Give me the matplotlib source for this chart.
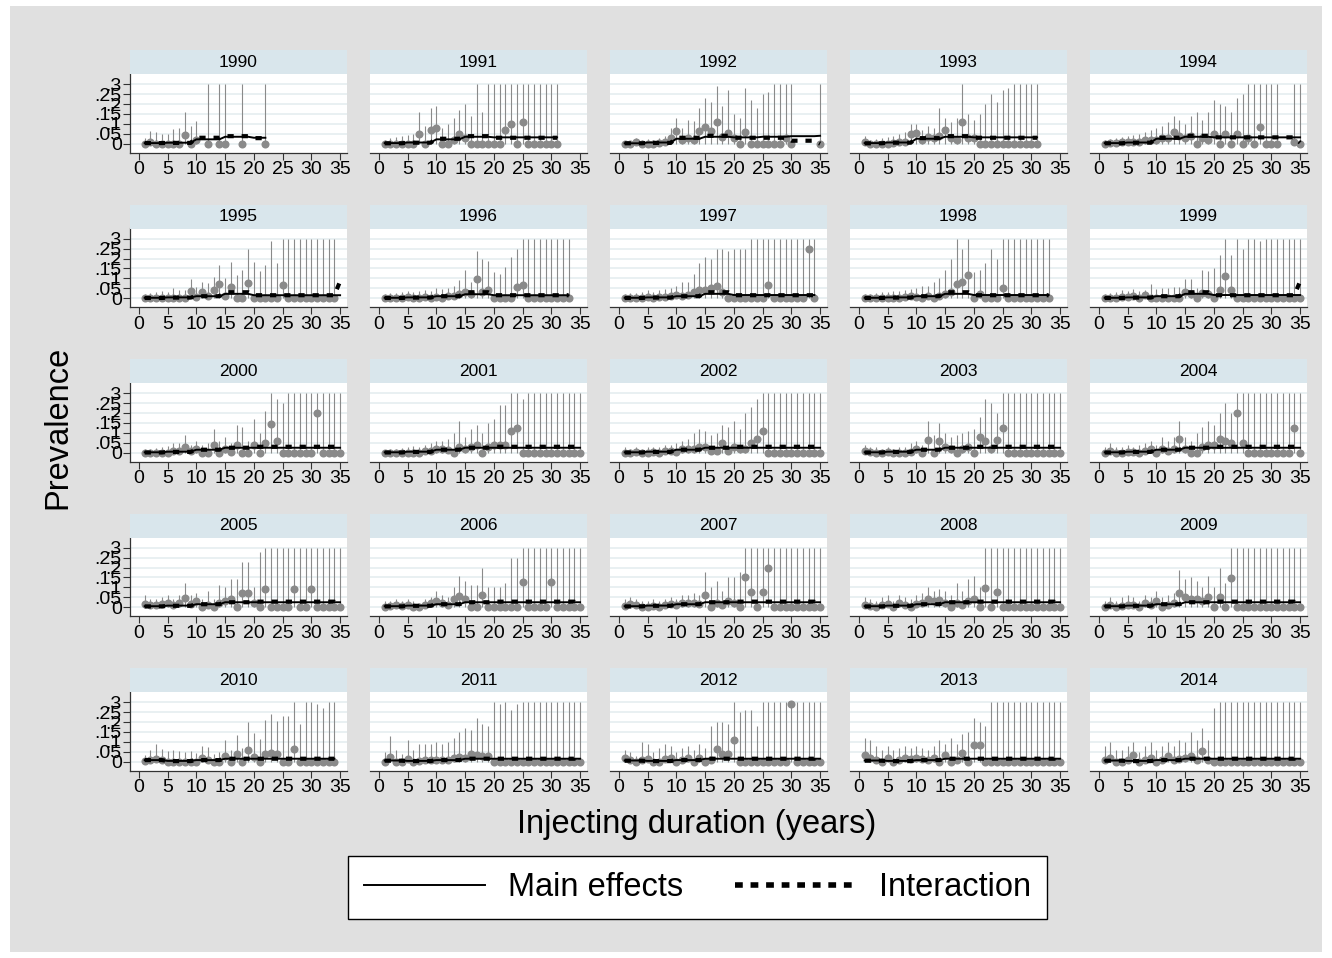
import matplotlib
matplotlib.use("Agg")
import matplotlib.pyplot as plt
from matplotlib.lines import Line2D
from matplotlib.patches import Rectangle
import numpy as np

N = None

years = list(range(1990, 2015))
y_ticks = [0, .05, .1, .15, .2, .25, .3]
y_tick_labels = ["0", ".05", ".1", ".15", ".2", ".25", ".3"]
x_ticks = [0, 5, 10, 15, 20, 25, 30, 35]

# duration groups used by the model: 1-4, 5-9, 10-14, 15-19, 20-24, 25-29, 30-34, 35
dur_group = [0] * 4 + [1] * 5 + [2] * 5 + [3] * 5 + [4] * 5 + [5] * 5 + [6] * 5 + [7]

# observed prevalence by injecting duration (1, 2, ...)
obs = {
    1990: [0, .01, 0, 0, 0, 0, 0, .045, 0, .02, N, 0, N, 0, 0, N, N, 0, N, N, N, 0],
    1991: [0, 0, 0, 0, 0, 0, .05, 0, .07, .08, 0, 0, .02, .05, .03, 0, 0, 0, 0, 0,
           0, .07, .1, 0, .11, 0, 0, 0, 0, 0, 0],
    1992: [0, 0, .008, 0, 0, 0, .005, .01, .027, .064, .02, .03, .02, .064, .083, .064, .11, .035, .055, .027,
           0, .057, 0, 0, 0, 0, 0, 0, .03, 0, N, N, N, N, 0],
    1993: [.01, 0, 0, 0, 0, .005, .01, .01, .05, .055, .02, .035, .03, .04, .07, .03, .02, .11, .03, .03,
           0, 0, 0, 0, 0, 0, 0, 0, 0, 0, 0],
    1994: [0, .005, .005, .01, .01, .01, .01, .02, .02, .02, .03, .03, .06, .04, .03, .04, 0, .03, .02, .05,
           0, .05, 0, .05, 0, .03, 0, .085, 0, 0, 0, N, N, .01, 0],
    1995: [0, 0, 0, 0, 0, 0, 0, 0, .034, .005, .03, .01, .039, .072, .012, .055, 0, 0, .078, 0,
           0, 0, 0, 0, .067, 0, 0, 0, 0, 0, 0, 0, 0, 0, N],
    1996: [0, 0, 0, 0, .005, 0, 0, .005, 0, .005, 0, .01, .01, .02, .03, .02, .095, .03, .04, 0,
           0, 0, 0, .055, .065, 0, 0, 0, 0, 0, 0, 0, 0],
    1997: [0, 0, 0, 0, .005, 0, .005, .005, .01, .015, .01, .015, .03, .04, .04, .05, .06, .03, 0, 0,
           0, 0, 0, 0, 0, .065, 0, 0, 0, 0, 0, 0, .25, 0],
    1998: [0, 0, 0, 0, 0, 0, 0, .005, .01, .005, 0, .01, 0, .01, .02, .03, .07, .08, .115, 0,
           .02, 0, 0, 0, .05, 0, 0, 0, 0, 0, 0, 0, 0],
    1999: [0, 0, 0, .005, .005, .01, 0, .015, 0, 0, 0, 0, 0, 0, .03, .02, 0, .028, .02, 0,
           .04, .11, .04, 0, 0, 0, 0, 0, 0, 0, 0, 0, 0, 0, 0],
    2000: [0, 0, 0, 0, 0, .01, .01, .03, .01, .02, 0, 0, .04, 0, .02, .005, .04, 0, 0, .04,
           0, .05, .145, .06, 0, 0, 0, 0, 0, 0, .2, 0, 0, 0, 0],
    2001: [0, 0, 0, 0, 0, 0, 0, .01, .01, .02, .02, .015, 0, .03, .02, .03, .04, 0, .03, .04,
           .04, .04, .11, .125, 0, 0, 0, 0, 0, 0, 0, 0, 0, 0, 0],
    2002: [0, 0, .005, 0, 0, .005, 0, .01, .01, .005, .02, .02, .02, .03, .03, .01, .01, .05, .01, .03,
           .02, .02, .05, .07, .11, 0, 0, 0, 0, 0, 0, 0, 0, 0, 0],
    2003: [.01, .005, 0, 0, .005, 0, 0, 0, .005, .02, 0, .065, 0, .06, .03, .02, 0, .02, .03, 0,
           .08, .06, .02, .065, .125, 0, 0, 0, 0, 0, 0, 0, 0, 0, 0],
    2004: [0, .01, 0, 0, .005, .005, 0, .01, .02, 0, .02, .01, .02, .07, .02, 0, 0, .03, .04, .04,
           .07, .06, .05, .2, .05, 0, 0, 0, 0, 0, 0, 0, 0, .125, 0],
    2005: [.015, .01, .01, .015, .02, .01, .02, .045, .015, .03, 0, .01, 0, .02, .03, .04, 0, .07, .07, .02,
           0, .09, 0, 0, 0, 0, .09, 0, 0, .09, 0, 0, 0, 0, 0],
    2006: [0, .005, .01, .005, .01, 0, 0, .01, .02, .03, .02, .01, .04, .055, .04, 0, 0, .06, 0, 0,
           0, 0, 0, 0, .125, 0, 0, 0, 0, .125, 0, 0, 0, 0, 0],
    2007: [.005, .015, .01, 0, 0, .005, 0, .01, .015, .01, .02, .02, .02, .015, .06, 0, .02, .01, .03, .02,
           0, .15, .075, 0, .075, .2, 0, 0, 0, 0, 0, 0, 0, 0, 0],
    2008: [.01, .005, 0, .01, .015, 0, .02, .01, 0, .015, .02, .04, .03, .035, .02, 0, .02, .01, .03, .04,
           0, .095, 0, .075, 0, 0, 0, 0, 0, 0, 0, 0, 0, 0, 0],
    2009: [0, .01, 0, .005, .01, .01, 0, .02, .01, .03, 0, .01, .02, .07, .05, .04, .04, .03, .05, 0,
           .05, 0, .145, 0, 0, 0, 0, 0, 0, 0, 0, 0, 0, 0, 0],
    2010: [.005, .01, .015, .01, 0, 0, 0, 0, 0, 0, .02, .01, 0, 0, .03, 0, .04, 0, .06, .025,
           0, .04, .045, .04, 0, 0, .065, 0, 0, 0, 0, 0, 0, 0],
    2011: [0, .025, 0, 0, .015, 0, .005, .01, .01, .01, .01, .01, .02, .025, .02, .04, .035, .03, .03, 0,
           0, 0, 0, 0, 0, 0, 0, 0, 0, 0, 0, 0, 0, 0, 0],
    2012: [.02, .01, 0, .01, .015, 0, 0, .015, .02, 0, .01, .02, 0, .02, 0, .01, .065, .04, .04, .11,
           0, 0, 0, 0, 0, 0, 0, 0, 0, .29, 0, 0, 0, 0, 0],
    2013: [.035, .02, .01, 0, .02, 0, .01, .02, .015, .02, .015, .01, .02, 0, .035, 0, .01, .045, 0, .085,
           .085, 0, 0, 0, 0, 0, 0, 0, 0, 0, 0, 0, 0, 0, 0],
    2014: [.01, .02, 0, 0, .01, .035, 0, .01, .02, 0, .01, .03, .01, .015, .02, .03, .01, .055, .01, 0,
           0, 0, 0, 0, 0, 0, 0, 0, 0, 0, 0, 0, 0, 0, 0],
}

# upper 95% limit of observed prevalence
upper = {
    1990: [.03, .065, .06, .05, .05, .075, .08, .16, .09, .115, N, .3, N, .3, .3, N, N, .3, N, N, N, .3],
    1991: [.02, .03, .035, .04, .045, .05, .16, .09, .18, .19, .08, .1, .13, .17, .2, .14, .3, .16, .3, .3,
           .3, .3, .3, .3, .3, .3, .3, .3, .3, .3, .3],
    1992: [.005, .01, .03, .02, .025, .02, .03, .04, .08, .13, .08, .12, .115, .18, .23, .21, .29, .19, .27, .15,
           .13, .28, .22, .18, .25, .26, .3, .3, .3, .3, N, N, N, N, .3],
    1993: [.04, .02, .025, .03, .035, .04, .05, .06, .1, .1, .07, .09, .08, .18, .13, .11, .13, .3, .15, .12,
           .15, .2, .25, .21, .27, .28, .3, .3, .3, .3, .3],
    1994: [.02, .025, .03, .035, .04, .045, .05, .06, .07, .08, .09, .11, .14, .12, .1, .14, .16, .12, .16, .22,
           .2, .19, .16, .23, .25, .3, .3, .3, .3, .3, .3, N, N, .3, .3],
    1995: [.02, .025, .03, .035, .03, .05, .04, .04, .095, .055, .08, .075, .105, .17, .1, .185, .115, .14, .25, .185,
           .135, .17, .29, .18, .3, .3, .3, .3, .3, .3, .3, .3, .3, .3, N],
    1996: [.02, .025, .025, .03, .035, .03, .035, .04, .035, .05, .045, .05, .06, .09, .14, .08, .24, .2, .19, .13,
           .12, .16, .21, .25, .3, .3, .3, .3, .3, .3, .3, .3, .3],
    1997: [.02, .025, .025, .03, .04, .03, .04, .045, .05, .06, .08, .08, .12, .18, .21, .2, .25, .25, .24, .25,
           .25, .25, .3, .3, .3, .3, .3, .3, .3, .3, .3, .3, .3, .3],
    1998: [.02, .02, .025, .03, .03, .035, .035, .04, .045, .05, .06, .06, .08, .1, .14, .2, .3, .25, .3, .13,
           .14, .18, .25, .2, .3, .3, .3, .3, .3, .3, .3, .3, .3],
    1999: [.02, .025, .03, .04, .035, .045, .035, .04, .07, .045, .05, .05, .055, .055, .095, .095, .05, .14, .135, .15,
           .22, .3, .22, .3, .25, .3, .3, .29, .3, .3, .3, .3, .3, .3, .3],
    2000: [.02, .02, .025, .03, .035, .05, .05, .09, .04, .06, .04, .05, .12, .06, .08, .05, .14, .13, .06, .17,
           .1, .21, .3, .27, .25, .3, .3, .3, .3, .3, .3, .3, .3, .3, .3],
    2001: [.015, .02, .02, .025, .03, .035, .03, .04, .05, .06, .06, .07, .1, .16, .08, .12, .14, .1, .15, .17,
           .24, .24, .3, .3, .27, .3, .3, .3, .3, .3, .3, .3, .3, .3, .3],
    2002: [.03, .02, .03, .02, .03, .03, .03, .04, .04, .05, .06, .07, .1, .12, .11, .09, .1, .14, .13, .16,
           .12, .2, .23, .27, .3, .3, .3, .3, .3, .3, .3, .3, .3, .3, .3],
    2003: [.04, .03, .03, .02, .03, .02, .03, .03, .05, .06, .04, .16, .09, .15, .1, .08, .09, .1, .11, .12,
           .18, .27, .25, .2, .3, .3, .3, .3, .3, .3, .3, .3, .3, .3, .3],
    2004: [.03, .05, .03, .03, .04, .03, .04, .05, .06, .04, .08, .06, .08, .16, .08, .06, .1, .13, .16, .14,
           .2, .25, .2, .3, .3, .3, .3, .3, .3, .3, .3, .3, .3, .3, .3],
    2005: [.06, .04, .04, .05, .06, .04, .06, .12, .06, .07, .04, .08, .04, .11, .1, .14, .14, .23, .23, .1,
           .28, .3, .3, .3, .3, .3, .3, .3, .3, .3, .3, .3, .3, .3, .3],
    2006: [.03, .03, .04, .03, .04, .03, .02, .04, .05, .08, .06, .05, .1, .16, .13, .11, .11, .2, .1, .1,
           .1, .12, .25, .25, .3, .3, .3, .3, .3, .3, .3, .3, .3, .3, .3],
    2007: [.04, .05, .04, .03, .03, .04, .03, .04, .05, .04, .06, .06, .07, .06, .18, .1, .13, .08, .15, .15,
           .18, .3, .3, .3, .3, .3, .3, .3, .3, .3, .3, .3, .3, .3, .3],
    2008: [.05, .04, .03, .05, .06, .03, .06, .05, .04, .06, .07, .1, .08, .09, .08, .06, .12, .08, .14, .16,
           .1, .3, .3, .3, .3, .3, .3, .3, .3, .3, .3, .3, .3, .3, .3],
    2009: [.03, .05, .03, .05, .06, .05, .03, .06, .05, .08, .05, .06, .07, .19, .14, .15, .13, .1, .16, .1,
           .2, .12, .3, .3, .3, .3, .3, .3, .3, .3, .3, .3, .3, .3, .3],
    2010: [.035, .06, .09, .065, .055, .06, .055, .05, .055, .045, .08, .075, .04, .05, .11, .06, .135, .07, .2, .145,
           .115, .21, .24, .205, .23, .23, .3, .19, .3, .3, .29, .27, .3, .3],
    2011: [.05, .13, .06, .04, .11, .06, .09, .09, .09, .1, .09, .1, .12, .15, .17, .16, .22, .19, .18, .3,
           .29, .3, .26, .29, .3, .3, .3, .3, .3, .3, .3, .3, .3, .3, .3],
    2012: [.06, .05, .03, .1, .09, .05, .07, .09, .08, .05, .07, .08, .06, .09, .07, .18, .2, .2, .19, .3,
           .25, .26, .26, .18, .3, .3, .3, .3, .3, .3, .3, .3, .3, .3, .3],
    2013: [.12, .11, .08, .06, .08, .06, .07, .08, .07, .08, .07, .06, .08, .11, .09, .12, .09, .14, .15, .22,
           .2, .18, .3, .3, .3, .3, .3, .3, .3, .3, .3, .3, .3, .3, .3],
    2014: [.08, .1, .06, .06, .08, .1, .05, .08, .1, .06, .08, .1, .08, .11, .1, .15, .11, .17, .11, .27,
           .3, .3, .3, .3, .3, .3, .3, .3, .3, .3, .3, .3, .3, .3, .3],
}

# predicted prevalence per duration group
main_lv = {
    1990: [.003, .005, .022, .035, .03, .03, .03, .03],
    1991: [.003, .006, .022, .035, .032, .032, .032, .032],
    1992: [.002, .006, .025, .035, .032, .035, .038, .04],
    1993: [.003, .006, .025, .035, .032, .032, .032, .032],
    1994: [.003, .006, .025, .035, .032, .032, .032, .032],
    1995: [.002, .004, .01, .022, .015, .015, .015, .015],
    1996: [.002, .004, .01, .02, .015, .015, .015, .015],
    1997: [.002, .004, .01, .022, .016, .016, .016, .016],
    1998: [.002, .004, .01, .022, .016, .016, .016, .016],
    1999: [.002, .004, .01, .022, .016, .016, .016, .016],
    2000: [.002, .005, .015, .025, .025, .025, .025, .025],
    2001: [.002, .005, .015, .025, .025, .025, .025, .025],
    2002: [.002, .005, .015, .025, .025, .025, .025, .025],
    2003: [.002, .005, .015, .025, .025, .025, .025, .025],
    2004: [.002, .005, .015, .025, .025, .025, .025, .025],
    2005: [.005, .008, .015, .025, .025, .025, .025, .025],
    2006: [.005, .008, .015, .025, .025, .025, .025, .025],
    2007: [.005, .008, .015, .025, .025, .025, .025, .025],
    2008: [.005, .008, .015, .025, .025, .025, .025, .025],
    2009: [.005, .008, .015, .025, .025, .025, .025, .025],
    2010: [.008, .004, .008, .015, .015, .015, .015, .015],
    2011: [.006, .004, .008, .015, .015, .015, .015, .015],
    2012: [.006, .004, .008, .015, .015, .015, .015, .015],
    2013: [.006, .004, .008, .015, .015, .015, .015, .015],
    2014: [.006, .004, .008, .015, .015, .015, .015, .015],
}

inter_lv = {
    1990: [.003, .004, .03, .038, .028, .028, .028, .028],
    1991: [.002, .005, .025, .038, .03, .03, .03, .03],
    1992: [.002, .004, .03, .04, .03, .03, .015, 0],
    1993: [.002, .005, .028, .038, .03, .03, .03, .03],
    1994: [.002, .005, .03, .04, .032, .032, .032, .005],
    1995: [.001, .003, .01, .03, .015, .015, .015, .085],
    1996: [.001, .003, .01, .03, .015, .015, .015, .015],
    1997: [.001, .003, .01, .03, .015, .015, .015, .015],
    1998: [.001, .003, .01, .03, .015, .015, .015, .015],
    1999: [.001, .003, .01, .03, .015, .015, .015, .085],
    2000: [.001, .004, .015, .025, .03, .03, .03, .005],
    2001: [.001, .004, .015, .025, .03, .03, .03, .005],
    2002: [.001, .004, .015, .025, .03, .03, .03, .005],
    2003: [.001, .004, .015, .025, .03, .03, .03, .005],
    2004: [.001, .004, .015, .025, .03, .03, .03, .005],
    2005: [.004, .007, .015, .025, .028, .028, .028, .005],
    2006: [.004, .007, .015, .025, .028, .028, .028, .005],
    2007: [.004, .007, .015, .025, .028, .028, .028, .005],
    2008: [.004, .007, .015, .025, .028, .028, .028, .005],
    2009: [.004, .007, .015, .025, .028, .028, .028, .005],
    2010: [.008, .003, .008, .015, .015, .015, .015, .015],
    2011: [.005, .003, .008, .015, .015, .015, .015, .04],
    2012: [.005, .003, .008, .015, .015, .015, .015, .04],
    2013: [.005, .003, .008, .015, .015, .015, .015, .04],
    2014: [.005, .003, .008, .015, .015, .015, .015, .04],
}

# ---- layout in pixels of the 1332x958 picture ----
W, H = 1332, 958
fig = plt.figure(figsize=(W / 100, H / 100), dpi=100, facecolor="white")
fig.patches.append(Rectangle((10 / W, 6 / H), 1312 / W, 946 / H, transform=fig.transFigure,
                             facecolor="#e0e0e0", edgecolor="none", zorder=-10))

tick_font = ["Liberation Sans Narrow", "Liberation Sans", "DejaVu Sans"]
txt_font = ["Liberation Sans", "DejaVu Sans"]

grey = "#8a8a8a"
line_grey = "#8a8a8a"

for i, yr in enumerate(years):
    r, c = divmod(i, 5)
    left = 130 + 240 * c
    top = 74 + 154.5 * r
    ax = fig.add_axes([left / W, 1 - (top + 78.7) / H, 217 / W, 78.7 / H])
    ax.set_facecolor("white")

    o = np.array(obs[yr], dtype=float)
    u = np.array(upper[yr], dtype=float)
    d = np.arange(1, len(o) + 1)
    grp = np.array(dur_group[:len(o)])
    m = np.array(main_lv[yr])[grp]
    it = np.array(inter_lv[yr])[grp]

    for yv in y_ticks:
        ax.axhline(yv, color="#e9f0f2", lw=1.4, zorder=0)
    ok = ~np.isnan(u)
    ax.vlines(d[ok], 0, u[ok], color=line_grey, lw=0.8, zorder=1)
    ax.plot(d, o, "o", color=grey, ms=5.8, mec="none", zorder=2)
    ax.plot(d, m, "-", color="black", lw=1.4, zorder=3, label="Main effects")
    ax.plot(d, it, color="black", lw=3, linestyle=(0, (1.5, 1.9)), zorder=4,
            label="Interaction")

    ax.set_xlim(-1.55, 36.2)
    ax.set_ylim(-0.0455, 0.352)
    ax.set_xticks(x_ticks)
    ax.set_xticklabels([str(t) for t in x_ticks], family=tick_font, fontsize=14)
    ax.tick_params(axis="x", length=5, width=0.8, pad=1, color="#333333")
    for s in ["top", "right"]:
        ax.spines[s].set_visible(False)
    ax.spines["bottom"].set_color("#333333")
    ax.spines["bottom"].set_linewidth(0.9)
    if c == 0:
        ax.set_yticks(y_ticks)
        ax.set_yticklabels(y_tick_labels, family=tick_font, fontsize=14)
        ax.tick_params(axis="y", length=5, width=0.8, pad=1, color="#333333")
        ax.spines["left"].set_color("#333333")
        ax.spines["left"].set_linewidth(0.9)
    else:
        ax.set_yticks([])
        ax.spines["left"].set_visible(False)

    # strip header
    hdr = fig.add_axes([left / W, 1 - top / H, 217 / W, 24 / H])
    hdr.set_facecolor("#d9e6ec")
    hdr.set_xticks([])
    hdr.set_yticks([])
    for s in hdr.spines.values():
        s.set_visible(False)
    hdr.text(0.5, 0.48, str(yr), ha="center", va="center", family=txt_font, fontsize=12.5)

fig.text(58 / W, 1 - 427 / H, "Prevalence", rotation=90, ha="center", va="center",
         family=txt_font, fontsize=23.5)
fig.text(697 / W, 1 - 824 / H, "Injecting duration (years)", ha="center", va="center",
         family=txt_font, fontsize=23.5)

handles = [Line2D([], [], color="black", lw=1.4),
           Line2D([], [], color="black", lw=4, linestyle=(0, (1.4, 1.4)))]
leg = fig.legend(handles, ["Main effects", "Interaction"], loc="center",
                 bbox_to_anchor=(697.5 / W, 1 - 887.5 / H), ncol=2, frameon=True,
                 fancybox=False, edgecolor="black", facecolor="white", framealpha=1,
                 prop={"family": txt_font, "size": 23.5}, handlelength=3.7,
                 handletextpad=0.7, columnspacing=1.6, borderpad=0.5)
leg.get_frame().set_linewidth(1.0)

fig.savefig("out.png", dpi=100, facecolor=fig.get_facecolor())
